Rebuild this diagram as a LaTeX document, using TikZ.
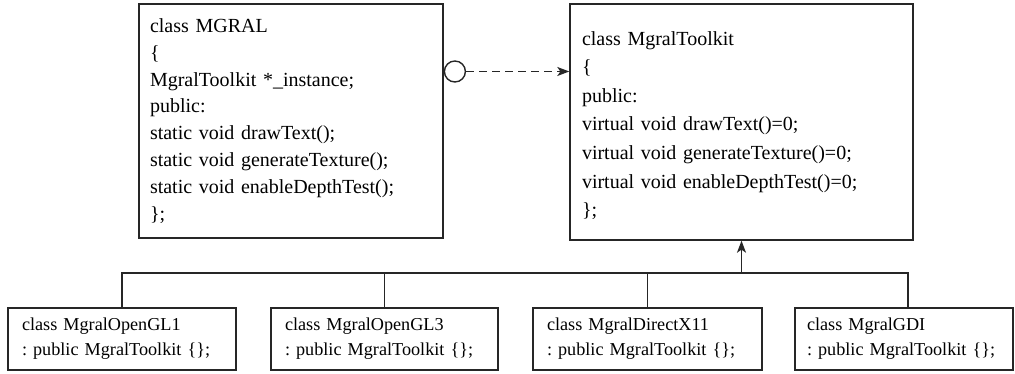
\documentclass[tikz,border=0pt]{standalone}
\usepackage{fontspec}
\setmainfont{Liberation Serif}
\usetikzlibrary{arrows.meta}
\frenchspacing
\begin{document}
\begin{tikzpicture}[x=1pt,y=1pt,
  line width=1.4pt,
  box/.style={draw=black!85, line width=1.4pt, inner sep=0pt},
  boxtext/.style={align=left, inner sep=0pt},
  childbox/.style={draw=black!85, line width=1.4pt, align=left, inner xsep=14pt, inner ysep=0pt,
    minimum height=62pt, font=\fontsize{18.2}{25}\selectfont},
  conn/.style={draw=black!85, line width=1.4pt},
  tip/.style={-{Stealth[length=12pt,width=9pt,inset=3pt]}}
]
\useasboundingbox (0,0) rectangle (1015,374);

\node[box, minimum width=304pt, minimum height=234pt] (mgral) at (291,253) {};
\node[boxtext, text width=282pt, font=\fontsize{20}{26.9}\selectfont] (mgraltext) at (mgral.center)
  {class MGRAL\\
   \{\\
   MgralToolkit *\_instance;\\
   public:\\
   static void drawText();\\
   static void generateTexture();\\
   static void enableDepthTest();\\
   \};};

\node[box, minimum width=343pt, minimum height=236pt] (kit) at (741.5,252) {};
\node[boxtext, text width=319pt, font=\fontsize{20}{28.6}\selectfont] (kittext)
  at ([yshift=-3.5pt]kit.center)
  {class MgralToolkit\\
   \{\\
   public:\\
   virtual void drawText()=0;\\
   virtual void generateTexture()=0;\\
   virtual void enableDepthTest()=0;\\
   \};};

\node[childbox, minimum width=228pt, text width=200pt] (c1) at (122,35)
  {class MgralOpenGL1\\: public MgralToolkit \{\};};
\node[childbox, minimum width=227pt, text width=199pt] (c2) at (384.5,35)
  {class MgralOpenGL3\\: public MgralToolkit \{\};};
\node[childbox, minimum width=229pt, text width=201pt] (c3) at (647.5,35)
  {class MgralDirectX11\\: public MgralToolkit \{\};};
\node[childbox, minimum width=218pt, text width=194pt, inner xsep=12pt] (c4) at (904,35)
  {class MgralGDI\\: public MgralToolkit \{\};};

% aggregation: circle on MGRAL, dashed arrow to toolkit
\node[draw=black!85, line width=1.4pt, circle, minimum size=21pt, inner sep=0pt,
  anchor=west] (ring) at (mgral.east |- 0,302.5) {};
\draw[conn, tip, dash pattern=on 8pt off 5pt] (ring.east) -- (ring.east -| kit.west);

% inheritance bus
\coordinate (bus) at (741.5,101);
\draw[conn] (c1.north) |- (bus);
\draw[conn] (c2.north) -- (c2.north |- bus);
\draw[conn] (c3.north) -- (c3.north |- bus);
\draw[conn] ([xshift=4pt]c4.north) |- (bus);
\draw[conn, tip] (bus) -- (kit.south);
\end{tikzpicture}
\end{document}
